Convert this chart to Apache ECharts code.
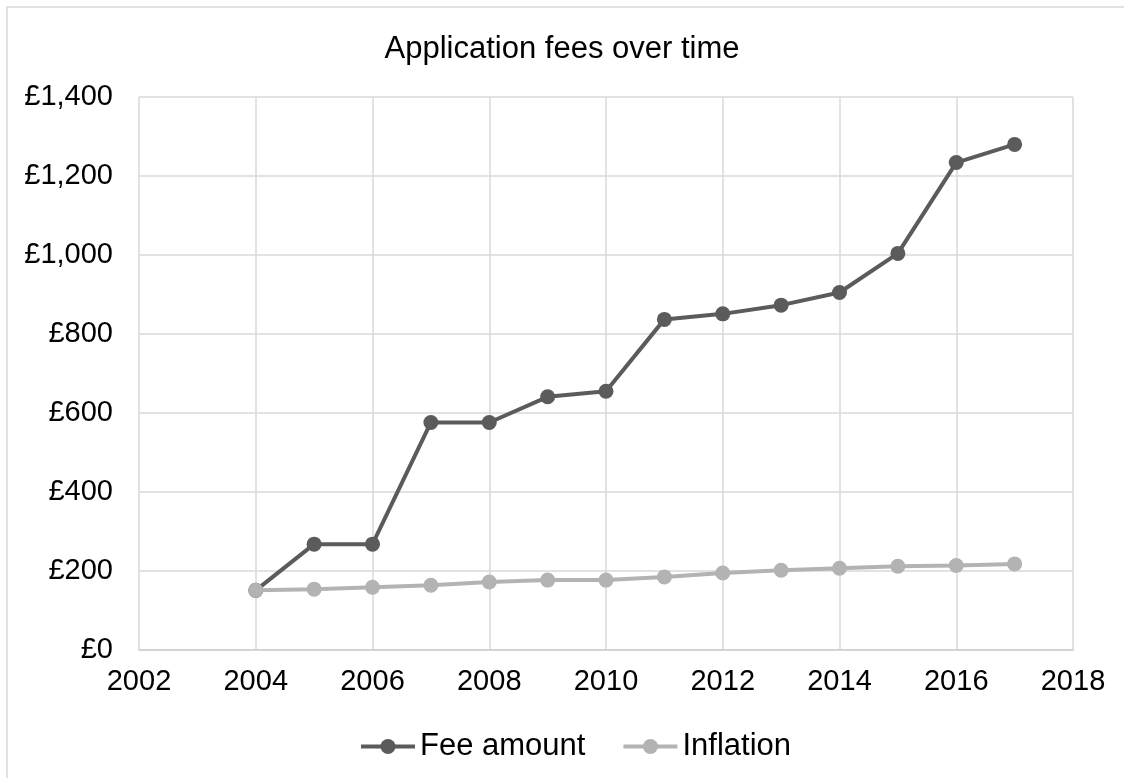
<!DOCTYPE html>
<html>
<head>
<meta charset="utf-8">
<script src="https://cdn.jsdelivr.net/npm/echarts@6/dist/echarts.min.js"></script>
<style>
html,body{margin:0;padding:0;background:#fff;}
#chart{width:1124px;height:778px;}
</style>
</head>
<body>
<div id="chart"></div>
<script>
const years = [2004, 2005, 2006, 2007, 2008, 2009, 2010, 2011, 2012, 2013, 2014, 2015, 2016, 2017];
const feeAmount = [151, 268, 268, 576, 576, 641, 655, 837, 851, 873, 905, 1004, 1234, 1280];
const inflation = [151, 154, 159, 164, 172, 177, 177, 185, 195, 202, 207, 212, 214, 218];
const seriesNames = ['Fee amount', 'Inflation'];
const titleText = 'Application fees over time';

const FONT = '"Liberation Sans", Arial, sans-serif';
function gbp(v) {
  return '£' + String(v).replace(/\B(?=(\d{3})+(?!\d))/g, ',');
}
const chart = echarts.init(document.getElementById('chart'), null, {renderer: 'canvas'});
chart.setOption({
  backgroundColor: '#ffffff',
  animation: false,
  graphic: [{
    type: 'rect',
    shape: {x: 7, y: 7, width: 1140, height: 790},
    style: {fill: 'none', stroke: '#d9d9d9', lineWidth: 1.5},
    silent: true
  }],
  title: {
    text: titleText,
    left: 'center',
    top: 29,
    textStyle: {fontFamily: FONT, fontSize: 31, fontWeight: 'normal', color: '#000'}
  },
  legend: {
    left: 359,
    top: 731,
    padding: 0,
    itemWidth: 54,
    itemHeight: 19,
    itemGap: 36,
    lineStyle: {width: 4},
    textStyle: {fontFamily: FONT, fontSize: 31, color: '#000', padding: [0, 0, 0, 0]},
    data: seriesNames
  },
  grid: {left: 139, right: 51, top: 97, bottom: 128, containLabel: false},
  xAxis: {
    type: 'value',
    min: 2002, max: 2018, interval: 2,
    axisLine: {show: true, lineStyle: {color: '#d0d0d0', width: 1.5}},
    axisTick: {show: false},
    splitLine: {show: true, lineStyle: {color: '#d9d9d9', width: 1.5}},
    axisLabel: {fontFamily: FONT, fontSize: 29, color: '#000', margin: 17, formatter: v => String(v)}
  },
  yAxis: {
    type: 'value',
    min: 0, max: 1400, interval: 200,
    axisLine: {show: false},
    axisTick: {show: false},
    splitLine: {show: true, lineStyle: {color: '#d9d9d9', width: 1.5}},
    axisLabel: {fontFamily: FONT, fontSize: 29, color: '#000', margin: 26, formatter: v => gbp(v)}
  },
  series: [
    {
      name: seriesNames[0], type: 'line',
      data: years.map((y, i) => [y, feeAmount[i]]),
      symbol: 'circle', symbolSize: 15,
      lineStyle: {color: '#5b5b5b', width: 4},
      itemStyle: {color: '#5b5b5b'},
      z: 3
    },
    {
      name: seriesNames[1], type: 'line',
      data: years.map((y, i) => [y, inflation[i]]),
      symbol: 'circle', symbolSize: 15,
      lineStyle: {color: '#b3b3b3', width: 4},
      itemStyle: {color: '#b3b3b3'},
      z: 4
    }
  ]
});
</script>
</body>
</html>
